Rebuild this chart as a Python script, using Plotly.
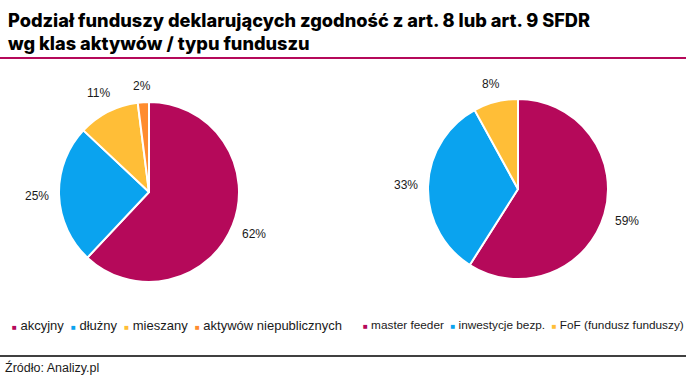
import math
import plotly.graph_objects as go

W, H = 686, 376

# ---- data ----
asset_labels = ["akcyjny", "dłużny", "mieszany", "aktywów niepublicznych"]
asset_values = [62, 25, 11, 2]
type_labels = ["master feeder", "inwestycje bezp.", "FoF (fundusz funduszy)"]
type_values = [59, 33, 8]

title_lines = ["Podział funduszy deklarujących zgodność z art. 8 lub art. 9 SFDR",
               "wg klas aktywów / typu funduszu"]
source_text = "Źródło: Analizy.pl"

colors = ["#B5095A", "#0AA3EF", "#FFBE37", "#FF8C2E"]
MAG = "#B5095A"

# pie geometry in pixels (centre x, centre y, radius)
pies = [
    dict(labels=asset_labels, values=asset_values, cx=149, cy=192, r=90,
         legend_x=10, legend_size=13, sep="\u00a0\u00a0"),
    dict(labels=type_labels, values=type_values, cx=518, cy=189, r=90,
         legend_x=361, legend_size=11.8, sep="\u00a0\u00a0"),
]

fig = go.Figure()
annotations = []
for p in pies:
    cx, cy, r = p["cx"], p["cy"], p["r"]
    fig.add_trace(go.Pie(
        labels=p["labels"], values=p["values"],
        marker=dict(colors=colors[:len(p["values"])], line=dict(color="white", width=2)),
        sort=False, direction="clockwise", rotation=0,
        textinfo="none", hoverinfo="label+percent", showlegend=False,
        domain=dict(x=[(cx - r) / W, (cx + r) / W], y=[1 - (cy + r) / H, 1 - (cy - r) / H]),
    ))
    total = sum(p["values"])
    cum = 0
    for v in p["values"]:
        mid = (cum + v / 2) / total * 2 * math.pi
        cum += v
        dx, dy = math.sin(mid), -math.cos(mid)
        txt = f"{round(v / total * 100)}%"
        hw = 3.3 * len(txt) + 2
        hh = 6
        d = r + 10 + abs(dx) * hw + abs(dy) * hh
        px, py = cx + dx * d, cy + dy * d
        annotations.append(dict(
            x=px / W, y=1 - py / H, xref="paper", yref="paper", text=txt,
            showarrow=False, xanchor="center", yanchor="middle",
            font=dict(family="Liberation Sans, Arial", size=12, color="#1a1a1a")))
    # legend row
    parts = []
    for lab, col in zip(p["labels"], colors):
        parts.append(f"<span style='color:{col};font-size:8px'>■</span>\u00a0{lab}")
    annotations.append(dict(
        x=p["legend_x"] / W, y=1 - 325 / H, xref="paper", yref="paper",
        text=p["sep"].join(parts), showarrow=False, xanchor="left", yanchor="middle",
        font=dict(family="Liberation Sans, Arial", size=p["legend_size"], color="#1a1a1a")))

for i, (line, yc) in enumerate(zip(title_lines, [20, 43])):
    annotations.append(dict(
        x=6 / W, y=1 - yc / H, xref="paper", yref="paper", text=line,
        showarrow=False, xanchor="left", yanchor="middle",
        font=dict(family="Inter, Lato, sans-serif", size=18.2, color="#000000", weight=800)))

annotations.append(dict(
    x=3 / W, y=1 - 367 / H, xref="paper", yref="paper", text=source_text,
    showarrow=False, xanchor="left", yanchor="middle",
    font=dict(family="Liberation Sans, Arial", size=12.5, color="#1a1a1a")))

shapes = [
    dict(type="line", xref="paper", yref="paper", x0=0, x1=1, y0=1 - 58 / H, y1=1 - 58 / H,
         line=dict(color=MAG, width=2)),
    dict(type="line", xref="paper", yref="paper", x0=0, x1=1, y0=1 - 356 / H, y1=1 - 356 / H,
         line=dict(color="#000000", width=1.5)),
]

fig.update_layout(
    width=W, height=H, margin=dict(l=0, r=0, t=0, b=0),
    paper_bgcolor="white", plot_bgcolor="white",
    annotations=annotations, shapes=shapes,
)
fig.write_html("out.html", config={"displayModeBar": False},
               post_script="document.body.style.margin='0';document.body.style.overflow='hidden';")
